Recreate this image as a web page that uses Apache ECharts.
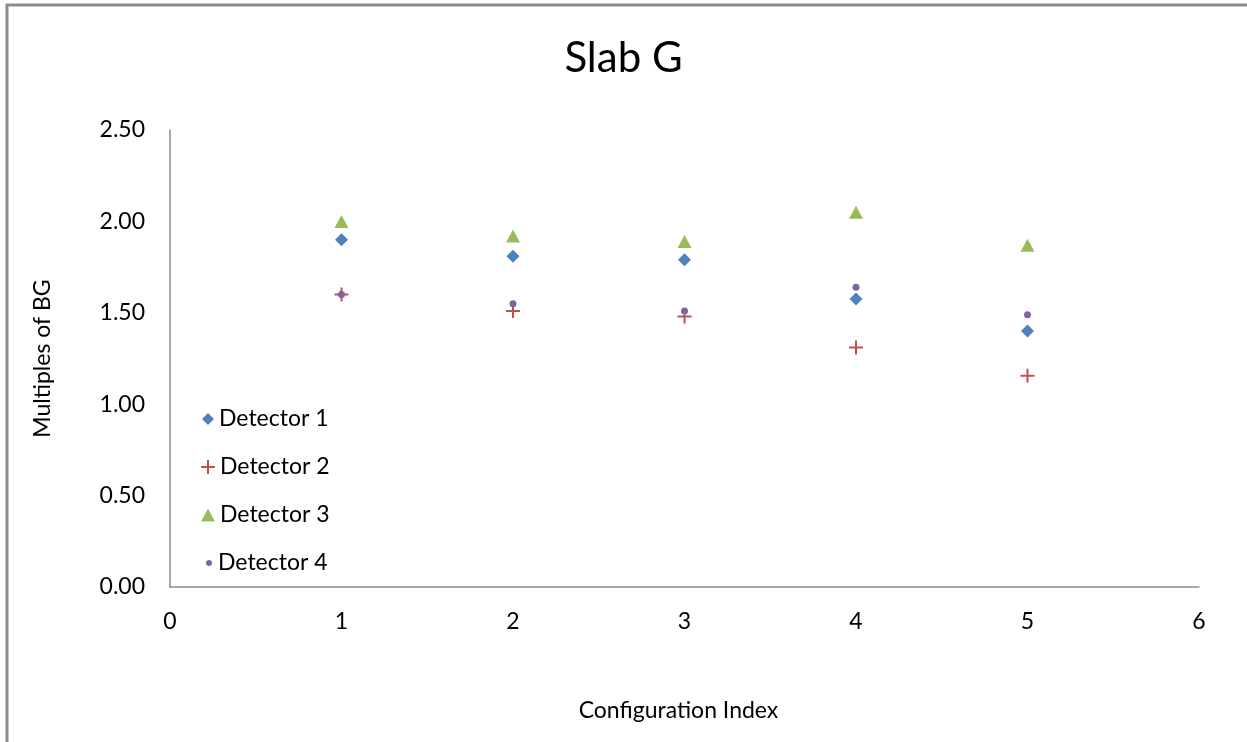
<!DOCTYPE html>
<html>
<head>
<meta charset="utf-8">
<script src="https://cdn.jsdelivr.net/npm/echarts@6/dist/echarts.min.js"></script>
<style>
html,body{margin:0;padding:0;background:#fff;}
#c{width:1247px;height:742px;}
</style>
</head>
<body>
<div id="c"></div>
<script>
var configIndex = [1, 2, 3, 4, 5];
var detector1 = [1.90, 1.81, 1.79, 1.575, 1.40];
var detector2 = [1.60, 1.51, 1.48, 1.31, 1.155];
var detector3 = [2.00, 1.92, 1.89, 2.05, 1.87];
var detector4 = [1.60, 1.55, 1.51, 1.64, 1.49];
var seriesNames = ['Detector 1', 'Detector 2', 'Detector 3', 'Detector 4'];

var FONT = 'Lato';
var crossPath = 'path://M6,0H8V6H14V8H8V14H6V8H0V6H6Z';
var colors = ['#4f81bd', '#c0504d', '#9bbb59', '#8064a2'];
var symbols = ['diamond', crossPath, 'triangle', 'circle'];
var sizes = [[13, 13], [14, 14], [14, 13], [7, 7]];
var legendIcon = [[12, 12], [14, 14], [14, 13], [6, 6]];
var legendLeft = [197, 196, 196, 201];

function pts(arr) { return configIndex.map(function (x, i) { return [x, arr[i]]; }); }
var allData = [detector1, detector2, detector3, detector4];

var chart = echarts.init(document.getElementById('c'));
var legends = seriesNames.map(function (n, i) {
  return {
    data: [n], left: legendLeft[i], top: 418 + i * 48 - 17, orient: 'vertical',
    icon: symbols[i],
    itemWidth: legendIcon[i][0], itemHeight: legendIcon[i][1], itemGap: 0,
    textStyle: { fontFamily: FONT, fontSize: 23, color: '#000', lineHeight: 26, padding: [0, 0, 0, i === 3 ? 1 : 0] },
    selectedMode: false
  };
});
chart.setOption({
  animation: false,
  title: { text: 'Slab G', left: 'center', top: 32, textStyle: { fontFamily: FONT, fontSize: 42, fontWeight: 'normal', color: '#000' } },
  graphic: [{ type: 'rect', shape: { x: 7, y: 5, width: 1400, height: 900 }, style: { fill: 'none', stroke: '#8c8c8c', lineWidth: 3 }, silent: true }],
  legend: legends,
  grid: { left: 170, right: 48, top: 130, bottom: 155, containLabel: false },
  xAxis: {
    type: 'value', min: 0, max: 6, interval: 1,
    name: 'Configuration Index', nameLocation: 'middle', nameGap: 112,
    nameTextStyle: { fontFamily: FONT, fontSize: 23, color: '#000', padding: [0, 12, 0, 0] },
    axisLine: { show: true, lineStyle: { color: '#8c8c8c', width: 1.5 } },
    axisTick: { show: false }, splitLine: { show: false },
    axisLabel: { fontFamily: FONT, fontSize: 23, color: '#000', margin: 23 }
  },
  yAxis: {
    type: 'value', min: 0, max: 2.5, interval: 0.5,
    name: 'Multiples of BG', nameLocation: 'middle', nameGap: 116,
    nameTextStyle: { fontFamily: FONT, fontSize: 23, color: '#000' },
    axisLine: { show: true, lineStyle: { color: '#8c8c8c', width: 1.5 } },
    axisTick: { show: false }, splitLine: { show: false },
    axisLabel: { fontFamily: FONT, fontSize: 23, color: '#000', margin: 25, formatter: function (v) { return v.toFixed(2); } }
  },
  series: seriesNames.map(function (n, i) {
    return {
      name: n, type: 'scatter', data: pts(allData[i]),
      symbol: symbols[i], symbolSize: sizes[i],
      itemStyle: { color: colors[i], opacity: 1 }, z: 2 + i
    };
  })
});
</script>
</body>
</html>
